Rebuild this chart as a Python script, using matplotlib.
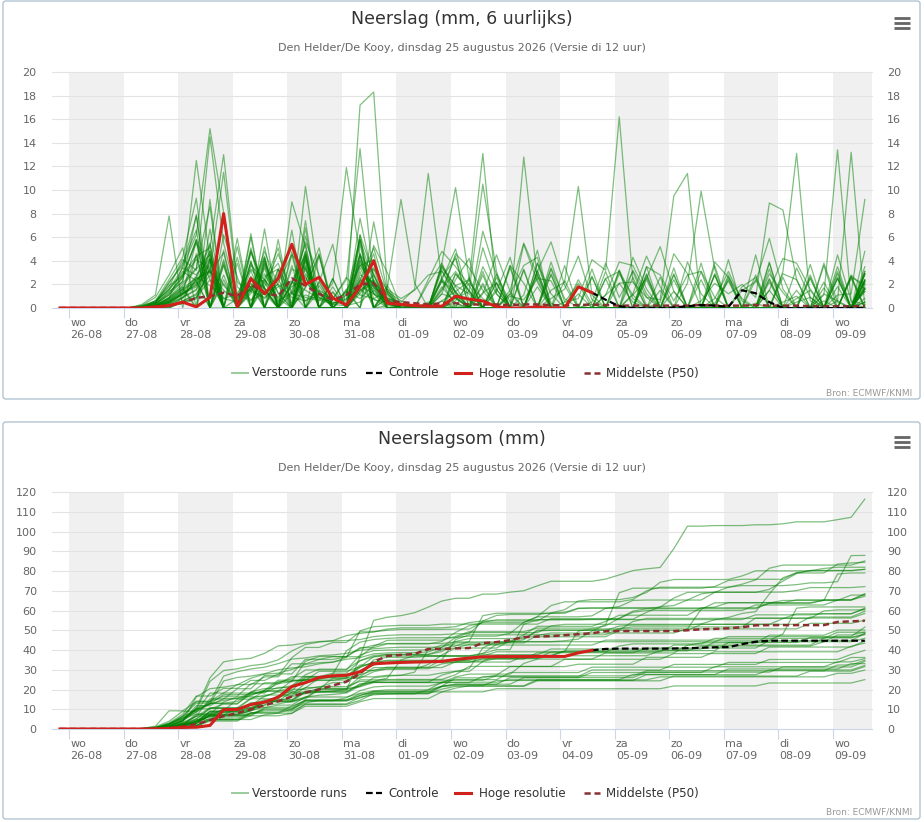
import numpy as np
import matplotlib
matplotlib.use('Agg')
import matplotlib.pyplot as plt
from matplotlib.lines import Line2D
from matplotlib.patches import FancyBboxPatch

W, H = 924, 822

# ---------------- data ----------------
day_labels = ['wo\n26-08', 'do\n27-08', 'vr\n28-08', 'za\n29-08', 'zo\n30-08',
              'ma\n31-08', 'di\n01-09', 'wo\n02-09', 'do\n03-09', 'vr\n04-09',
              'za\n05-09', 'zo\n06-09', 'ma\n07-09', 'di\n08-09', 'wo\n09-09']

# 6-hourly steps, first step 25-08 20:00 local (in days relative to 26-08 00:00)
step_days = -1/6 + np.arange(60) / 4

hres_6h = [0, 0, 0, 0, 0, 0, 0, 0.1, 0.2, 0.5, 0.1, 0.9, 8.0, 0.1, 2.5, 1.2, 2.5, 5.4, 2.0, 2.6,
           0.85, 0.25, 1.8, 4.0, 0.4, 0.3, 0.2, 0.15, 0.15, 1.0, 0.75, 0.6, 0.1, 0, 0, 0.1, 0, 0, 1.8, 1.3]

ctrl_first_step = 39
ctrl_6h = [1.3, 0.7, 0.15, 0, 0, 0, 0.05, 0.15, 0.25, 0.2, 0.1, 1.5, 1.25, 0.5, 0, 0, 0, 0, 0, 0, 0]

p50_6h = [0, 0, 0, 0, 0, 0, 0, 0.05, 0.2, 0.45, 0.85, 1.0, 1.3, 1.0, 2.0, 1.3, 1.0, 2.5, 1.9, 1.2,
          0.7, 1.1, 2.0, 2.1, 0.6, 0.5, 0.4, 0.3, 0.4, 0.4, 0.3, 0.3, 0.3, 0.25, 0.3, 0.3, 0.25, 0.2, 0.25, 0.3,
          0.25, 0.2, 0.2, 0.2, 0.2, 0.2, 0.2, 0.25, 0.2, 0.2, 0.2, 0.25, 0.2, 0.2, 0.2, 0.15, 0.15, 0.15, 0.15, 0.15]

p50_sum = [0, 0, 0, 0, 0, 0, 0, 0, 0.5, 1.2, 2.5, 4.5, 6.5, 8.0, 10, 12, 14, 16.4, 18.5, 20,
           22, 24, 28, 34, 37, 37.5, 38, 40.5, 40.5, 40.8, 41, 43.5, 44, 45, 46.5, 46.8, 47, 47.5, 48, 48.5,
           49.5, 49.6, 49.6, 49.6, 49.6, 49.6, 50, 50.5, 50.7, 51, 51.5, 52.5, 52.6, 52.6, 52.6, 52.6, 52.6, 54.2, 54.5, 54.8]

members_6h = [
 [0,0,0,0,0,0, 0,.2,.5,1.2,2.0,3.1,1.5,.6,1.8,2.4,.9,2.2,1.5,.8,.5,.3,17.2,18.3,1.6,.8,
  1.5,2.8,3.1,1.4, 0,2.1,0,1.0, .7,2.5,2.3,0, 0,0,1.1,2.1, 2.2,.9,.7,9.5, 11.4,0,.3,0, 0,.4,0,.5, 1.0,0,0,1.1, 1.2,9.2],
 [0,0,0,0,0,0, 0,.4,1.1,2.3,12.5,4.1,.8,1.2,3.3,2.1,.5,1.8,2.6,.9,.3,1.4,.8,2.0,.4,.2,
  0,.3,2.4,5.0, .6,0,0,1.5, 5.5,2.8,0,0, 0,.5,3.8,.9, 3.1,.2,0,0, 0,0,3.9,2.6, .8,0,0,0, .5,.9,0,.6, 13.2,.1],
 [0,0,0,0,0,0, 0,.2,.8,3.5,6.2,15.2,8.1,1.2,.6,2.5,3.8,.4,1.1,.7,.3,.2,.5,1.5,.6,.3,
  0,0,.1,.4, 0,6.5,2.8,.5, 0,0,.8,1.6, 4.4,.7,0,0, 1.1,2.5,5.2,1.4, 0,0,0,0, 1.8,2.6,0,0, 0,0,1.2,.6, 0,0],
 [0,0,0,0,0,0, 0,.5,1.8,4.1,3.2,14.5,5.5,.9,1.6,.8,2.1,4.5,3.3,1.2,.7,2.6,1.1,.8,1.4,.6,
  0,0,0,.6, 2.1,.8,0,0, 0,0,3.9,.5, 2.1,0,0,0, 0,0,.5,4.6, 2.9,0,0,0, 0,0,1.5,4.2, 3.8,1.6,0,0, 0,.5],
 [0,0,0,0,0,0, 0,.3,1.2,2.8,4.4,5.1,13.0,2.2,1.4,.9,1.8,2.3,.6,1.1,.4,.8,1.6,.7,.5,.3,
  0,0,0,2.9, 1.5,0,0,0, 0,3.8,.4,0, 0,0,0,2.1, .5,0,0,0, 0,.6,2.1,1.2, 2.0,.9,8.9,8.3, 2.4,0,0,4.5, .6,.3],
 [0,0,0,0,0,0, 0,.1,.6,1.5,4.4,0,3.6,0,5.1,0,0,4.8,0,1.4,0,0,2.6,0,1.7,9.2,
  2.1,0,0,0, 0,1.2,4.5,1.4, 0,0,0,.5, .8,4.1,3.2,16.2, 2.3,0,0,0, 0,0,.8,3.1, .6,0,0,0, 3.4,.9,0,0, 0,.8],
 [0,0,0,0,0,0, .1,.4,2.2,3.6,7.8,0,4.1,0,0,5.2,0,2.1,4.4,0,0,0,7.6,2.2,.3,0,
  0,0,.6,1.4, 2.3,13.1,1.2,0, 0,0,0,0, 2.4,.3,0,0, 0,0,0,0, 0,0,.4,2.3, 0,0,0,0, 0,0,1.1,13.4, .5,0],
 [0,0,0,0,0,0, 0,.2,.9,2.1,3.4,8.6,0,5.2,0,6.7,0,9.0,5.2,0,2.5,0,5.4,0,.8,.4,
  0,0,0,.2, 0,3.5,1.2,0, 0,0,0,0, 0,.3,0,0, 0,3.5,2.8,.6, 2.8,3.1,.9,0, 0,0,0,0, .8,1.5,0,0, 0,.5],
 [0,0,0,0,0,0, .3,1.1,7.8,0,4.6,0,2.8,0,6.3,0,0,3.6,0,0,1.8,0,6.2,2.8,.4,0,
  0,0,1.5,4.4, 0,0,0,0, 0,3.8,1.2,0, 0,0,0,0, 0,0,0,0, 2.1,9.9,3.3,0, 0,0,0,0, 1.5,0,0,0, 0,3.1],
 [0,0,0,0,0,0, 0,.2,.7,1.6,0,6.7,0,5.9,0,4.2,0,0,6.8,0,0,1.6,0,7.3,1.3,0,
  0,.5,0,0, 0,1.3,2.1,0, 12.8,2.4,0,0, 0,0,0,0, 0,0,0,0, 0,0,0,0, 0,2.4,0,0, 0,0,.6,0, 0,2.4],
 [0,0,0,0,0,0, .2,.6,1.9,2.7,4.1,3.3,11.5,1.8,.7,1.2,2.0,.9,.6,1.5,.8,2.4,13.5,2.1,.4,.3,
  0,0,.6,0, 0,0,0,0, 0,0,2.8,0, 0,0,0,0, 3.2,.9,0,0, 0,0,0,0, 0,2.8,0,0, 0,0,0,2.5, 0,1.9],
 [0,0,0,0,0,0, 0,.1,.4,1.2,2.6,1.9,.8,.5,1.7,2.9,.6,1.3,2.2,.9,.4,.7,3.6,4.1,.8,.5,
  1.6,11.4,2.3,0, 0,0,0,0, 0,0,0,0, 0,0,2.5,0, 0,0,0,0, 0,0,0,0, 0,0,0,3.1, 13.1,.6,0,0, 0,0],
 [0,0,0,0,0,0, 0,.3,1.4,2.2,7.9,0,3.7,0,2.7,0,5.8,0,10.3,2.4,0,0,4.0,1.7,.9,0,
  0,0,0,.8, 0,0,0,0, 1.1,4.9,0,0, 0,0,0,0, 4.3,1.6,0,0, 0,0,0,0, 0,0,0,0, 0,0,3.8,.5, 0,0],
 [0,0,0,0,0,0, 0,0,.5,1.3,5.7,0,2.1,0,3.8,0,3.3,0,4.3,0,2.5,0,6.2,0,1.6,0,
  0,0,3.8,10.2, 2.4,0,0,0, 0,0,0,0, 0,0,0,3.2, .8,0,0,0, 0,0,0,0, 0,4.5,0,0, 0,0,0,0, 0,2.3],
 [0,0,0,0,0,0, .2,.5,1.6,3.4,2.8,4.2,1.9,.8,1.5,2.7,3.3,1.2,.9,.6,2.1,11.9,4.4,1.3,.6,.3,
  0,0,0,0, 2.6,0,0,0, 0,0,3.4,.8, 0,0,0,0, 0,0,0,0, 0,0,0,0, 0,0,0,0, 0,3.7,0,0, 0,2.9],
 [0,0,0,0,0,0, 0,.2,.9,1.8,0,4.1,0,3.8,0,3.4,0,4.5,0,1.9,0,0,5.8,0,.8,0,
  0,0,1.2,.8, 1.4,10.5,3.1,0, 0,0,0,0, 0,0,0,0, 0,0,0,0, 0,0,0,2.6, 0,0,0,0, 0,0,0,0, 0,4.8],
 [0,0,0,0,0,0, .1,.4,1.3,2.6,5.8,0,2.4,0,6.0,0,2.5,0,4.1,0,1.4,0,5.8,0,1.3,0,
  0,0,0,0, 0,1.9,0,0, 0,0,1.5,2.2, 10.3,1.1,0,0, 0,0,0,0, 0,0,0,0, 0,0,0,0, 0,2.8,0,0, 0,1.6],
 [0,0,0,0,0,0, 0,0,0,.9,2.4,3.2,0,0,1.8,0,0,3.3,2.7,0,0,1.5,3.6,1.9,.4,0,
  0,0,1.6,3.1, 1.4,0,0,0, 5.4,2.2,0,0, 0,0,3.1,0, 0,0,0,0, 3.9,1.2,0,0, 0,0,3.9,0, 0,0,0,2.6, 0,0],
 [0,0,0,0,0,0, 0,.6,1.5,3.1,2.3,0,6.2,2.6,0,0,2.9,5.4,0,0,0,1.2,5.8,2.1,1.1,0,
  0,0,0,0, 0,2.8,0,0, 0,0,2.9,0, 0,0,0,0, 0,0,0,0, 0,0,3.6,0, 0,0,0,0, 0,0,0,3.5, 0,1.4],
 [0,0,0,0,0,0, 0,.3,.8,1.9,3.3,4.5,0,0,4.8,1.6,0,0,6.1,1.5,0,0,1.7,4.6,0,0,
  0,0,0,2.9, 1.4,0,0,0, 0,3.2,0,0, 0,0,0,0, 0,2.4,0,0, 0,0,0,0, 0,0,3.8,0, 0,0,0,0, 0,3.5],
 [0,0,0,0,0,0, 0,.1,.5,1.2,1.8,4.6,0,0,1.5,4.3,0,0,4.8,0,0,0,4.1,.8,0,0,
  0,0,3.6,1.8, 0,5.1,1.6,0, 0,0,3.3,0, 0,0,0,2.9, 1.1,0,0,0, 0,0,2.8,0, 0,0,0,0, 0,0,0,3.1, 0,0],
 [0,0,0,0,0,0, .1,.5,2.1,3.8,6.6,0,0,.8,4.9,1.7,0,1.4,5.6,2.8,0,0,4.4,1.8,.5,0,
  0,0,0,0, 0,0,2.1,0, 0,0,0,0, 0,0,0,0, 0,0,0,3.4, 0,0,0,0, 0,0,0,0, 0,0,3.6,0, 0,2.2],
 [0,0,0,0,0,0, 0,.2,.6,1.4,2.7,5.5,0,0,0,1.8,4.6,1.3,0,2.2,5.4,0,0,3.3,1.5,0,
  0,0,2.5,.9, 0,0,0,0, 3.2,0,0,0, 0,0,0,0, 0,0,2.6,0, 0,0,0,4.1, 0,0,0,0, 0,2.6,0,0, 0,1.4],
 [0,0,0,0,0,0, 0,0,0,.6,1.1,3.9,0,0,2.4,1.7,0,0,4.4,0,0,0,2.8,2.2,0,0,
  0,0,2.6,4.2, 0,0,1.4,4.3, 0,0,0,0, 1.2,0,0,0, 0,3.5,0,0, 0,0,2.8,0, 0,0,0,0, 0,0,0,0, 2.8,1.6],
 [0,0,0,0,0,0, 0,.2,.7,1.6,2.2,0,4.9,0,0,3.9,1.2,0,4.5,0,0,1.1,4.6,0,.2,0,
  0,0,0,2.4, 4.2,0,0,0, 0,0,0,3.6, 0,0,0,0, 0,0,0,2.9, 0,0,0,0, 0,0,3.3,0, 0,0,0,0, 0,3.1],
 [0,0,0,0,0,0, 0,.1,.4,1.1,2.3,3.6,0,0,1.8,4.4,0,0,1.7,4.6,0,0,1.4,2.1,0,0,
  0,0,0,0, 0,3.1,0,0, 0,0,0,0, 0,3.3,0,0, 0,0,0,2.8, 0,0,0,0, 0,0,2.5,0, 0,0,0,0, 2.6,2.0],
 [0,0,0,0,0,0, 0,0,.3,.8,2.5,3.1,0,0,0,3.6,0,0,2.9,1.3,0,0,1.2,2.8,0,0,
  0,0,3.2,.9, 0,0,0,3.4, 0,0,0,0, 0,2.6,0,0, 0,0,0,0, 0,0,2.9,0, 0,0,0,0, 0,0,0,2.5, 0,1.6],
 [0,0,0,0,0,0, 0,0,0,.5,.9,3.4,0,0,3.2,0,0,2.1,4.6,0,0,0,3.1,0,0,0,
  0,2.1,3.8,1.3, 0,0,0,3.6, 0,0,0,0, 0,2.7,0,0, 0,0,0,0, 0,0,0,2.4, 0,0,0,0, 0,0,0,0, 2.5,0],
 [0,0,0,0,0,0, 0,.2,.6,1.3,1.9,4.8,0,0,1.2,4.1,0,0,1.8,4.4,0,0,1.5,2.3,.6,0,
  0,0,0,0, 0,0,2.2,0, 0,0,0,0, 0,0,0,0, 0,2.6,0,0, 0,0,0,0, 0,0,0,0, 0,0,0,2.9, 0,2.4],
 [0,0,0,0,0,0, 0,.1,.3,.9,1.6,4.2,0,0,0,3.7,1.3,0,4.1,0,0,0,1.9,1.2,.5,0,
  0,0,1.8,.4, 0,0,2.6,0, 0,0,0,0, 0,0,0,0, 0,2.9,0,0, 0,0,0,0, 0,0,2.4,0, 0,0,0,0, 0,2.3],
 [0,0,0,0,0,0, 0,0,.2,.6,1.2,2.8,0,0,0,2.4,.8,0,3.5,0,0,0,2.3,1.6,0,0,
  0,0,3.4,1.9, 1.2,0,0,0, 0,3.1,0,0, 0,0,0,0, 2.6,0,0,0, 0,0,0,2.8, 0,0,0,0, 0,0,0,0, 2.7,0],
 [0,0,0,0,0,0, 0,0,.1,.4,.8,3.3,0,0,2.1,0,0,1.2,4.8,0,0,0,3.4,1.2,.4,.2,
  0,0,3.6,1.2, 0,0,0,0, 3.3,0,0,0, 0,0,0,0, 0,2.8,0,0, 0,0,0,0, 0,0,0,2.6, 0,0,0,0, 0,2.8],
 [0,0,0,0,0,0, 0,.1,.5,1.2,2.1,4.9,0,0,3.6,2.4,0,0,3.9,0,0,0,3.8,1.2,0,0,
  0,0,0,0, 0,0,0,1.2, 0,0,0,0, 0,0,0,0, 0,0,1.5,0, 0,0,0,0, 0,0,0,0, 0,0,0,1.8, 0,1.6],
 [0,0,0,0,0,0, 0,0,.2,.5,.9,2.4,0,0,3.9,1.2,0,0,3.3,0,0,0,2.1,3.4,0,0,
  0,0,2.3,1.4, 0,0,0,0, 0,2.8,0,0, 0,0,0,0, 0,0,0,2.4, 0,0,0,0, 0,0,0,0, 0,2.5,0,0, 0,2.3],
 [0,0,0,0,0,0, 0,.1,.4,.9,1.5,4.1,0,0,2.3,1.7,0,0,3.6,0,0,0,2.4,1.8,0,0,
  0,0,0,0, 0,0,1.6,0, 0,0,0,0, 0,0,0,0, 0,0,0,1.4, 0,0,0,0, 0,0,1.5,0, 0,0,0,0, 0,1.7],
 [0,0,0,0,0,0, .1,.6,2.4,4.3,9.3,0,3.9,0,4.0,0,3.3,0,7.4,0,1.3,0,4.6,0,1.9,0,
  0,0,1.2,4.6, 3.4,1.5,0,0, 0,3.1,5.6,1.9, 0,0,0,0, 1.2,4.4,1.8,0, 0,0,0,0, 1.5,2.2,5.9,1.6, 0,0,0,0, 0,2.1],
 [0,0,0,0,0,0, .2,.9,2.8,5.1,0,9.2,0,4.3,0,3.9,0,6.6,0,2.2,0,1.4,0,5.3,3.0,.1,
  0,0,0,1.9, 2.4,0,0,0, 0,1.8,0,0, 0,0,1.1,3.9, 3.6,1.2,0,0, 0,0,0,0, 0,0,2.9,1.3, 0,0,0,0, 2.7,0],
 [0,0,0,0,0,0, 0,.3,1.1,2.6,5.8,2.9,4.7,0,0,2.2,5.1,0,0,4.5,0,0,2.3,5.1,1.2,0,
  0,0,2.3,.9, 0,0,0,3.6, 2.1,0,0,0, 0,0,0,3.2, 0,0,0,0, 0,3.1,0,0, 0,0,0,2.9, 2.4,0,0,0, 0,2.9],
 [0,0,0,0,0,0, 0,.2,.8,1.7,2.5,5.3,0,0,1.4,4.8,1.9,0,2.2,5.1,0,0,1.5,2.4,.5,0,
  0,2.4,4.8,3.5, 1.9,0,0,1.2, 3.6,4.3,0,0, 0,0,2.5,3.1, 0,0,0,0, 0,3.8,0,0, 0,0,2.2,0, 0,0,1.7,0, 0,2.9],
 [0,0,0,0,0,0, .1,.4,1.6,2.9,5.5,2.4,0,0,4.7,1.5,0,2.1,5.4,0,0,0,4.5,2.9,.4,0,
  0,0,0,0, 0,0,2.9,0, 0,0,0,2.3, 0,0,0,0, 0,0,0,0, 0,2.4,0,0, 0,0,0,0, 0,0,2.2,0, 0,1.7],
]

# ---------------- derived (sums) ----------------
hres_sum = np.cumsum(hres_6h)
ctrl_sum = hres_sum[ctrl_first_step] + np.concatenate([[0], np.cumsum(ctrl_6h[1:])])
members_sum = [np.cumsum(m) for m in members_6h]

# ---------------- styling ----------------
GREEN = '#008000'
RED = '#d0211b'
BROWN = '#8b3030'
XMIN, XMAX = -0.3115, 14.715

fig = plt.figure(figsize=(W / 100, H / 100), dpi=100)


def fx(x):
    return x / W


def fy(y):
    return 1 - y / H


def frame(y0, y1):
    p = FancyBboxPatch((fx(3), fy(y1)), fx(920) - fx(3), fy(y0) - fy(y1),
                       boxstyle='round,pad=0,rounding_size=0.003',
                       transform=fig.transFigure, fc='white', ec='#a9bfcc', lw=0.9, zorder=-5)
    fig.add_artist(p)


def burger(yc):
    for dy in (-5, 0, 5):
        fig.add_artist(Line2D([fx(894), fx(910)], [fy(yc + dy)] * 2, color='#666666', lw=2.0,
                              transform=fig.transFigure, solid_capstyle='butt'))


def legend(yc):
    items = [('Verstoorde runs', dict(color=GREEN, alpha=0.4, lw=1.4), 232, 252),
             ('Controle', dict(color='black', lw=1.6, ls=(0, (3, 1.5))), 366, 388),
             ('Hoge resolutie', dict(color=RED, lw=2.2), 455, 479),
             ('Middelste (P50)', dict(color=BROWN, lw=1.8, ls=(0, (2.5, 1.5))), 584, 606)]
    for txt, st, x0, xt in items:
        fig.add_artist(Line2D([fx(x0), fx(x0 + 16)], [fy(yc)] * 2, transform=fig.transFigure, **st))
        fig.text(fx(xt), fy(yc), txt, fontsize=8.6, color='#333333', ha='left', va='center')


def panel(ax, ymax, ystep, series, hres, ctrl, p50):
    ax.set_xlim(XMIN, XMAX)
    ax.set_ylim(0, ymax)
    for d in range(0, 15, 2):
        ax.axvspan(d, d + 1, color='#f0f0f0', lw=0, zorder=0)
    yt = np.arange(0, ymax + 0.01, ystep)
    for y in yt[1:]:
        ax.axhline(y, color='#e3e3e3', lw=0.8, zorder=0.5, clip_on=False)
    ax.set_yticks(yt)
    ax.set_yticklabels([str(int(v)) for v in yt])
    ax.tick_params(axis='y', length=0, pad=11, labelsize=8, labelcolor='#666666',
                   labelleft=True, labelright=True)
    ax.set_xticks(range(15))
    ax.tick_params(axis='x', length=7, width=0.8, color='#ccd6eb', labelbottom=False)
    for s in ('top', 'left', 'right'):
        ax.spines[s].set_visible(False)
    ax.spines['bottom'].set_color('#ccd6eb')
    ax.spines['bottom'].set_linewidth(0.8)
    for m in series:
        ax.plot(step_days, m, color=GREEN, alpha=0.5, lw=0.9, zorder=2)
    ax.plot(step_days, p50, color=BROWN, lw=1.8, ls=(0, (2.5, 1.5)), zorder=3)
    ax.plot(step_days[ctrl_first_step:], ctrl, color='black', lw=1.6, ls=(0, (3, 1.5)), zorder=4)
    ax.plot(step_days[:len(hres)], hres, color=RED, lw=2.2, zorder=5)
    for d, lab in enumerate(day_labels):
        ax.annotate(lab, xy=(d, 0), xycoords=('data', 'axes fraction'), xytext=(0.8, -7.0),
                    textcoords='offset points', ha='left', va='top', fontsize=8,
                    color='#666666', linespacing=1.3)


# ---------------- top panel ----------------
frame(1, 399)
fig.text(fx(462), fy(19), 'Neerslag (mm, 6 uurlijks)', fontsize=12.5, color='#333333',
         ha='center', va='center')
fig.text(fx(462), fy(48), 'Den Helder/De Kooy, dinsdag 25 augustus 2026 (Versie di 12 uur)',
         fontsize=8, color='#666666', ha='center', va='center')
burger(23)
ax1 = fig.add_axes([fx(52), fy(308), (872 - 52) / W, 236 / H])
panel(ax1, 20, 2, members_6h, hres_6h, ctrl_6h, p50_6h)
legend(373)
fig.text(fx(912), fy(393), 'Bron: ECMWF/KNMI', fontsize=6.5, color='#999999', ha='right', va='center')

# ---------------- bottom panel ----------------
frame(422, 819)
fig.text(fx(462), fy(439), 'Neerslagsom (mm)', fontsize=12.5, color='#333333',
         ha='center', va='center')
fig.text(fx(462), fy(468), 'Den Helder/De Kooy, dinsdag 25 augustus 2026 (Versie di 12 uur)',
         fontsize=8, color='#666666', ha='center', va='center')
burger(442)
ax2 = fig.add_axes([fx(52), fy(729), (872 - 52) / W, 237 / H])
panel(ax2, 120, 10, members_sum, hres_sum, ctrl_sum, p50_sum)
legend(793)
fig.text(fx(912), fy(812), 'Bron: ECMWF/KNMI', fontsize=6.5, color='#999999', ha='right', va='center')

fig.savefig('out.png', dpi=100)
